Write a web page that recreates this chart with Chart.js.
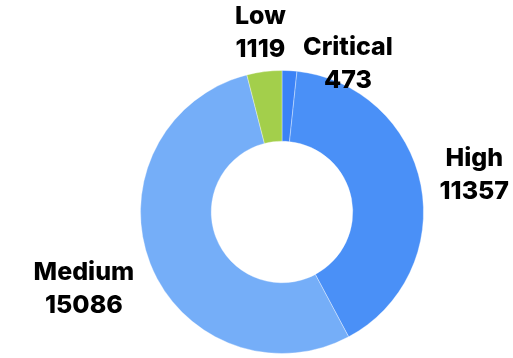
<!DOCTYPE html>
<html><head><meta charset="utf-8">
<script src="https://cdn.jsdelivr.net/npm/chart.js@4"></script>
<style>html,body{margin:0;padding:0;background:#fff}#wrap{width:513px;height:358px;position:relative}</style>
</head><body><div id="wrap"><canvas id="c"></canvas></div>
<script>
const categories = ["Critical", "High", "Medium", "Low"];
const counts = [473, 11357, 15086, 1119];
const sliceColors = ["#3b82f6", "#4a90f7", "#75aef8", "#a3cf4b"];

const labelNudge = { Critical: [56, 40], Low: [2, 8], High: [2, 0] };

const outsideLabels = {
  id: 'outsideLabels',
  afterDatasetsDraw(chart) {
    const ctx = chart.ctx;
    const meta = chart.getDatasetMeta(0);
    const font = '800 25px Inter';
    const lineH = 33;
    const offset = 17;
    ctx.save();
    ctx.font = font;
    ctx.fillStyle = '#000';
    ctx.textAlign = 'center';
    ctx.textBaseline = 'middle';
    meta.data.forEach((arc, i) => {
      const p = arc.getProps(['x','y','startAngle','endAngle','outerRadius'], true);
      const mid = (p.startAngle + p.endAngle) / 2;
      const lines = [categories[i], String(counts[i])];
      const w = Math.max(...lines.map(t => ctx.measureText(t).width));
      const h = lineH * lines.length - 6;
      const c = Math.cos(mid), s = Math.sin(mid);
      const ext = Math.min(Math.abs(c) > 1e-6 ? (w/2)/Math.abs(c) : Infinity, Math.abs(s) > 1e-6 ? (h/2)/Math.abs(s) : Infinity);
      const d = p.outerRadius + offset + ext;
      let cx = p.x + c*d, cy = p.y + s*d;
      const n = labelNudge[categories[i]];
      if (n) { cx += n[0]; cy += n[1]; }
      lines.forEach((t, k) => {
        ctx.fillText(t, cx, cy + (k - (lines.length-1)/2) * lineH);
      });
    });
    ctx.restore();
  }
};

new Chart(document.getElementById('c'), {
  type: 'doughnut',
  data: {
    labels: categories,
    datasets: [{
      data: counts,
      backgroundColor: sliceColors,
      borderColor: 'rgba(255,255,255,0.35)',
      borderWidth: 1
    }]
  },
  options: {
    responsive: true,
    maintainAspectRatio: false,
    animation: false,
    cutout: '50%',
    layout: { padding: { top: 70, bottom: 4, left: 100, right: 49 } },
    plugins: { legend: { display: false }, tooltip: { enabled: false } }
  },
  plugins: [outsideLabels]
});
</script></body></html>
